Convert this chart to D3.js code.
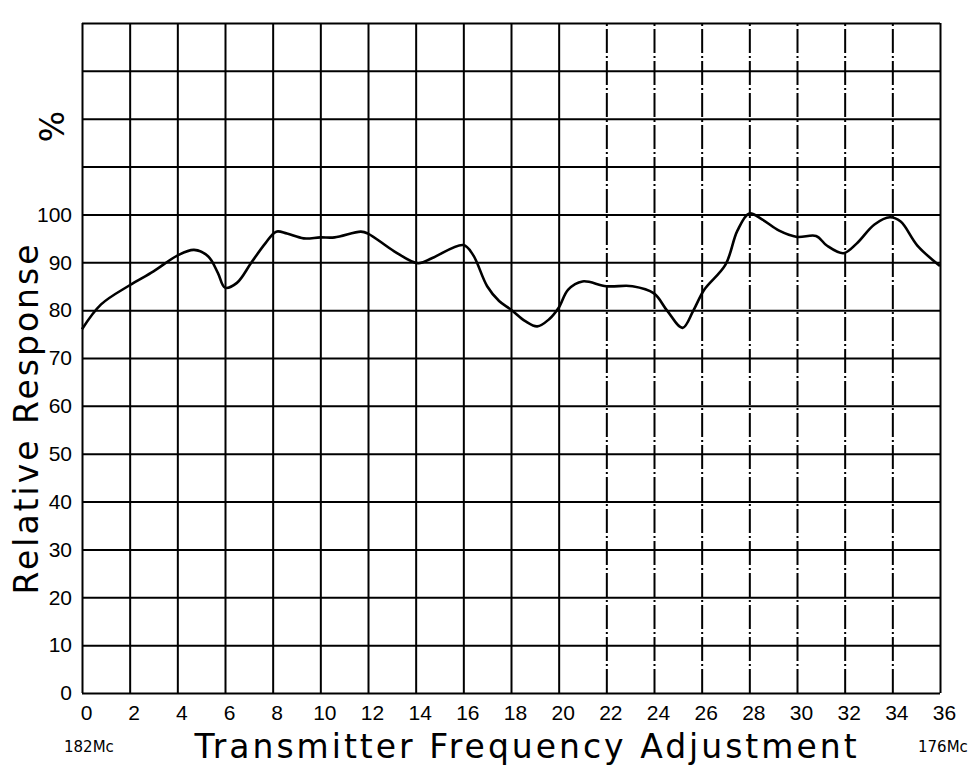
<html>
<style>
    body {
        margin: 0;
        background: #fff;
    }

    svg {
        font-family: 'DejaVu Sans', sans-serif;
    }

    .grid .tick line {
        stroke: #000;
        stroke-width: 2;
    }

    .grid .domain {
        display: none;
    }

    .grid .tick text {
        display: none;
    }

    .y .tick text {
        font-size: 21px;
        fill: #000;
    }

    .x .tick text {
        font-size: 21px;
        fill: #000;
    }

    .y .domain, .x .domain {
        display: none;
    }

    .title {
        font-size: 33px;
        letter-spacing: 3px;
    }

    .mc {
        font-size: 15px;
    }
</style>

<body>
    <svg width="980" height="777"></svg>

    <script src="https://d3js.org/d3.v7.min.js"></script>

    <script>
        // frequency adjustment steps along the bottom
        let adjTicks = d3.range(0, 37, 2)
        let respTicks = d3.range(0, 101, 10)
        let gridRows = d3.range(0, 141, 10)
        // scan shows these verticals broken up
        let brokenLines = [22, 24, 26, 28, 30, 32, 34]

        let adjust = [0, 0.8, 2, 3, 4, 4.7, 5.3, 5.7, 6, 6.5, 7.1, 7.7, 8.15, 8.6, 9.3, 10, 10.6, 11.7, 12, 13.1, 14.1, 14.7, 16, 16.4, 17, 17.5, 18, 18.6, 19.1, 19.6, 20, 20.4, 21, 22, 23.1, 24, 24.55, 25.2, 25.65, 26.1, 27, 27.5, 28, 28.55, 29.25, 30, 30.8, 31.25, 31.95, 32.5, 33.25, 33.9, 34.35, 35.05, 36]
        let response = [76, 81.2, 85.2, 88.1, 91.4, 92.6, 91.2, 87.8, 84.7, 85.7, 89.9, 94, 96.4, 96, 95, 95.2, 95.2, 96.4, 96, 92.3, 89.8, 90.9, 93.6, 91.6, 85, 81.9, 80.1, 77.7, 76.6, 78.1, 80.5, 84.3, 86, 85, 85, 83.5, 79.9, 76.3, 79.9, 84.2, 89.5, 96.6, 100.2, 98.9, 96.6, 95.3, 95.5, 93.5, 91.9, 93.9, 97.9, 99.4, 98.5, 93.5, 89.2]

        let svg = d3.select("svg")

        let x = d3.scaleLinear()
            .domain([0, 36])
            .range([82, 940])

        let y = d3.scaleLinear()
            .domain([0, 140])
            .range([693, 23])

        // horizontal rules
        svg.append("g")
            .attr("class", "grid")
            .attr("transform", `translate(${x(0)}, 0)`)
            .call(d3.axisLeft(y).tickValues(gridRows).tickSize(-(x(36) - x(0))))

        // vertical rules
        svg.append("g")
            .attr("class", "grid")
            .attr("transform", `translate(0, ${y(0)})`)
            .call(d3.axisBottom(x).tickValues(adjTicks).tickSize(-(y(0) - y(140))))
            .call(g => g.selectAll(".tick")
                .filter(d => brokenLines.includes(d))
                .select("line")
                .attr("stroke-dasharray", "24,3,2,3"))

        svg.append("g")
            .attr("class", "y axis")
            .attr("transform", `translate(${x(0) - 6}, 0)`)
            .call(d3.axisLeft(y).tickValues(respTicks).tickSize(0).tickPadding(4))

        svg.append("g")
            .attr("class", "x axis")
            .attr("transform", `translate(4, ${y(0)})`)
            .call(d3.axisBottom(x).tickValues(adjTicks).tickSize(0).tickPadding(12))

        let line = d3.line()
            .x((d, i) => x(adjust[i]))
            .y(d => y(d))
            .curve(d3.curveCatmullRom.alpha(0.5))

        svg.append("path")
            .datum(response)
            .attr("fill", "none")
            .attr("stroke", "#000")
            .attr("stroke-width", 2.6)
            .attr("d", line)

        svg.append("text")
            .attr("class", "title")
            .attr("transform", "translate(38, 418) rotate(-90)")
            .attr("text-anchor", "middle")
            .text("Relative  Response")

        svg.append("text")
            .attr("class", "title")
            .attr("transform", "translate(64, 125) rotate(-90)")
            .attr("text-anchor", "middle")
            .text("%")

        svg.append("text")
            .attr("class", "title")
            .attr("x", 527)
            .attr("y", 758)
            .attr("text-anchor", "middle")
            .text("Transmitter  Frequency  Adjustment")

        svg.append("text")
            .attr("class", "mc")
            .attr("x", 64)
            .attr("y", 752)
            .text("182Mc")

        svg.append("text")
            .attr("class", "mc")
            .attr("x", 918)
            .attr("y", 752)
            .text("176Mc")
    </script>
</body>
</html>
